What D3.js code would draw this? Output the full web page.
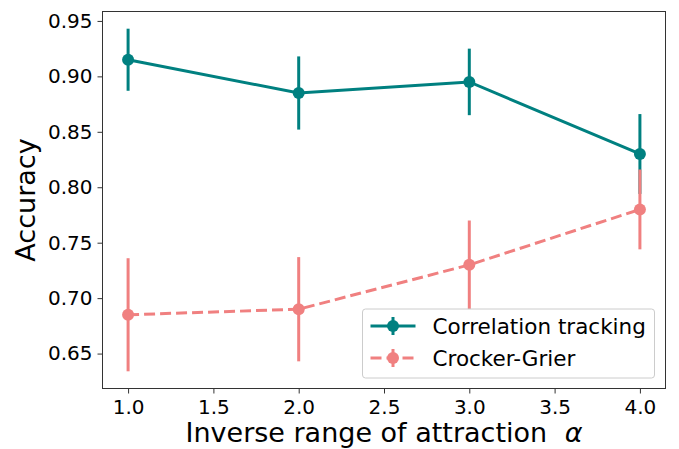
<!DOCTYPE html>
<html>
<head>
<meta charset="utf-8">
<script src="https://cdn.jsdelivr.net/npm/d3@7"></script>
<style>
  body { margin: 0; background: #fff; }
  text { font-family: "DejaVu Sans", sans-serif; fill: #000; }
</style>
</head>
<body>
<div id="chart"></div>
<script>
// data
const alphas = [1.0, 2.0, 3.0, 4.0];
const ctMean = [0.915, 0.885, 0.895, 0.830];
const ctErr = [0.028, 0.033, 0.030, 0.036];
const cgMean = [0.685, 0.690, 0.730, 0.780];
const cgErr = [0.051, 0.047, 0.040, 0.036];
const xTicks = [1.0, 1.5, 2.0, 2.5, 3.0, 3.5, 4.0];
const yTicks = [0.65, 0.70, 0.75, 0.80, 0.85, 0.90, 0.95];

const width = 679, height = 449;
const margin = { left: 102.5, right: 13.5, top: 11.5, bottom: 60.5 };

const svg = d3.select('#chart').append('svg')
  .attr('width', width)
  .attr('height', height);

const x = d3.scaleLinear().domain([0.85, 4.15]).range([margin.left, width - margin.right]);
const y = d3.scaleLinear().domain([0.6185, 0.9585]).range([height - margin.bottom, margin.top]);

// axes
const xAxis = svg.append('g')
  .attr('transform', `translate(0,${height - margin.bottom})`)
  .call(d3.axisBottom(x).tickValues(xTicks).tickFormat(d3.format('.1f')).tickSize(5).tickPadding(6));
const yAxis = svg.append('g')
  .attr('transform', `translate(${margin.left},0)`)
  .call(d3.axisLeft(y).tickValues(yTicks).tickFormat(d3.format('.2f')).tickSize(5).tickPadding(5));
[xAxis, yAxis].forEach(a => {
  a.select('.domain').remove();
  a.selectAll('line').attr('stroke', '#333').attr('stroke-width', 1);
  a.selectAll('text').style('font-size', '20px').style('font-family', '"DejaVu Sans", sans-serif').attr('fill', '#000');
});

// frame
svg.append('rect')
  .attr('x', margin.left).attr('y', margin.top)
  .attr('width', width - margin.left - margin.right)
  .attr('height', height - margin.top - margin.bottom)
  .attr('fill', 'none').attr('stroke', '#333').attr('stroke-width', 1);

const series = [
  { name: 'Correlation tracking', mean: ctMean, err: ctErr, color: '#008080', dash: null },
  { name: 'Crocker-Grier', mean: cgMean, err: cgErr, color: '#F08080', dash: '11,5' },
];

const line = d3.line().x(d => x(d.a)).y(d => y(d.m));

// teal first, Crocker-Grier drawn over it
series.forEach(s => {
  const pts = alphas.map((a, i) => ({ a, m: s.mean[i], e: s.err[i] }));
  const g = svg.append('g');
  g.append('path')
    .datum(pts)
    .attr('d', line)
    .attr('fill', 'none')
    .attr('stroke', s.color)
    .attr('stroke-width', 3)
    .attr('stroke-dasharray', s.dash);
  g.selectAll('line.err')
    .data(pts)
    .join('line')
    .attr('x1', d => x(d.a)).attr('x2', d => x(d.a))
    .attr('y1', d => y(d.m - d.e)).attr('y2', d => y(d.m + d.e))
    .attr('stroke', s.color).attr('stroke-width', 3);
  g.selectAll('circle')
    .data(pts)
    .join('circle')
    .attr('cx', d => x(d.a)).attr('cy', d => y(d.m))
    .attr('r', 6)
    .attr('fill', s.color);
});

// axis labels
svg.append('text')
  .attr('x', (margin.left + width - margin.right) / 2)
  .attr('y', 442)
  .attr('text-anchor', 'middle')
  .style('font-size', '27px')
  .html('Inverse range of attraction <tspan font-style="italic" dx="9">α</tspan>');

svg.append('text')
  .attr('transform', `translate(35,${(margin.top + height - margin.bottom) / 2}) rotate(-90)`)
  .attr('text-anchor', 'middle')
  .style('font-size', '27px')
  .text('Accuracy');

// legend
const legend = svg.append('g').attr('transform', 'translate(362.5,309)');
legend.append('rect')
  .attr('width', 292).attr('height', 69).attr('rx', 3)
  .attr('fill', '#fff').attr('fill-opacity', 0.8)
  .attr('stroke', '#ccc').attr('stroke-width', 1);
series.forEach((s, i) => {
  const g = legend.append('g').attr('transform', `translate(0,${17 + i * 32})`);
  g.append('line')
    .attr('x1', 8).attr('x2', 53).attr('y1', 0).attr('y2', 0)
    .attr('stroke', s.color).attr('stroke-width', 3)
    .attr('stroke-dasharray', s.dash);
  g.append('line')
    .attr('x1', 30.5).attr('x2', 30.5).attr('y1', -9).attr('y2', 9)
    .attr('stroke', s.color).attr('stroke-width', 3);
  g.append('circle').attr('cx', 30.5).attr('cy', 0).attr('r', 6).attr('fill', s.color);
  g.append('text')
    .attr('x', 70).attr('y', 8)
    .style('font-size', '21.5px')
    .text(s.name);
});
</script>
</body>
</html>
